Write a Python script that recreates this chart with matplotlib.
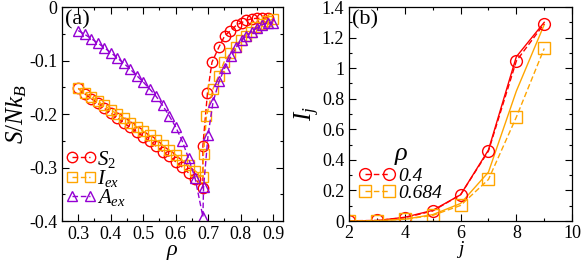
import matplotlib
matplotlib.use('Agg')
import matplotlib.pyplot as plt
from matplotlib.ticker import MultipleLocator

plt.rcParams['font.family'] = ['Liberation Serif', 'DejaVu Serif']
plt.rcParams['mathtext.fontset'] = 'custom'
plt.rcParams['mathtext.rm'] = 'Liberation Serif'
plt.rcParams['mathtext.it'] = 'Liberation Serif:italic'

# ---- panel (a) data ----
rho_s2 = [0.30, 0.32, 0.34, 0.36, 0.38, 0.40, 0.42, 0.44, 0.46, 0.48, 0.50, 0.52, 0.54,
          0.56, 0.58, 0.60, 0.62, 0.64, 0.66, 0.684, 0.684, 0.698, 0.712, 0.734, 0.751,
          0.769, 0.787, 0.803, 0.818, 0.834, 0.851, 0.867, 0.884]
s2 = [-0.152, -0.162, -0.171, -0.180, -0.189, -0.198, -0.207, -0.216, -0.225, -0.233,
      -0.242, -0.251, -0.260, -0.270, -0.279, -0.289, -0.299, -0.310, -0.321, -0.338,
      -0.259, -0.161, -0.103, -0.074, -0.054, -0.044, -0.034, -0.029, -0.025, -0.022,
      -0.021, -0.021, -0.020]

rho_iex = [0.30, 0.32, 0.34, 0.36, 0.38, 0.40, 0.42, 0.44, 0.46, 0.48, 0.50, 0.52, 0.54,
           0.56, 0.58, 0.60, 0.62, 0.64, 0.66, 0.684, 0.686, 0.695, 0.715, 0.733, 0.749,
           0.769, 0.785, 0.800, 0.816, 0.832, 0.849, 0.865, 0.882, 0.900]
iex = [-0.152, -0.160, -0.168, -0.176, -0.184, -0.192, -0.200, -0.208, -0.216, -0.224,
       -0.232, -0.240, -0.249, -0.258, -0.267, -0.276, -0.286, -0.296, -0.306, -0.318,
       -0.274, -0.204, -0.153, -0.128, -0.103, -0.086, -0.074, -0.062, -0.054, -0.046,
       -0.037, -0.031, -0.026, -0.023]

rho_aex = [0.30, 0.32, 0.34, 0.36, 0.38, 0.40, 0.42, 0.44, 0.46, 0.48, 0.50, 0.52, 0.54,
           0.56, 0.58, 0.60, 0.62, 0.64, 0.66, 0.684, 0.686, 0.700, 0.715, 0.734, 0.751,
           0.772, 0.787, 0.803, 0.818, 0.834, 0.851, 0.867, 0.884, 0.900]
aex = [-0.044, -0.051, -0.059, -0.067, -0.076, -0.085, -0.095, -0.105, -0.116, -0.128,
       -0.140, -0.153, -0.167, -0.184, -0.203, -0.224, -0.250, -0.283, -0.320, -0.392,
       -0.337, -0.239, -0.178, -0.139, -0.114, -0.091, -0.075, -0.062, -0.054, -0.046,
       -0.039, -0.033, -0.029, -0.030]

# ---- panel (b) data ----
j = [2, 3, 4, 5, 6, 7, 8, 9]
ij_04 = [0.002, 0.004, 0.022, 0.066, 0.172, 0.458, 1.047, 1.291]
ij_0684 = [0.001, 0.003, 0.012, 0.037, 0.102, 0.272, 0.680, 1.129]
ij_04_line = [0.0, 0.003, 0.025, 0.070, 0.172, 0.465, 1.075, 1.300]
ij_0684_line = [0.0, 0.002, 0.012, 0.042, 0.115, 0.320, 0.850, 1.285]

RED = '#ff0000'
ORANGE = '#ffa500'
PURPLE = '#9400d3'

fig = plt.figure(figsize=(5.81, 2.61), dpi=100)
ax1 = fig.add_axes([0.1067, 0.153, 0.380, 0.820])
ax2 = fig.add_axes([0.6007, 0.153, 0.384, 0.820])

mk = dict(markerfacecolor='none', markersize=7.5, markeredgewidth=1.0, linewidth=1.0,
          dashes=(4, 2))
ax1.plot(rho_s2, s2, 'o--', color=RED, label=r'$S_2$', **mk)
ax1.plot(rho_iex, iex, 's--', color=ORANGE, label=r'$I_{ex}$', **mk)
ax1.plot(rho_aex, aex, '^--', color=PURPLE, label=r'$A_{ex}$', **mk)
ax1.set_xlim(0.25, 0.93)
ax1.set_ylim(-0.4, 0.0)
ax1.xaxis.set_minor_locator(MultipleLocator(0.05))
ax1.yaxis.set_minor_locator(MultipleLocator(0.05))
ax1.set_xticks([0.3, 0.4, 0.5, 0.6, 0.7, 0.8, 0.9])
ax1.set_xticklabels(['0.3', '0.4', '0.5', '0.6', '0.7', '0.8', '0.9'])
ax1.set_yticks([-0.4, -0.3, -0.2, -0.1, 0.0])
ax1.set_yticklabels(['-0.4', '-0.3', '-0.2', '-0.1', '0'])
ax1.set_xlabel(r'$\rho$', fontsize=16, labelpad=0)
ax1.set_ylabel(r'$S/Nk_B$', fontsize=18, labelpad=0)
ax1.text(0.015, 0.985, '(a)', transform=ax1.transAxes, fontsize=16, va='top', ha='left')
leg1 = ax1.legend(loc='lower left', bbox_to_anchor=(0.0, 0.04), frameon=False,
                  numpoints=2, handlelength=1.45, handletextpad=0.05, labelspacing=-0.08,
                  fontsize=15, borderaxespad=0.0, borderpad=0.2)

ax2.plot(j, ij_04_line, '-', color=RED, linewidth=1.0)
ax2.plot(j, ij_0684_line, '-', color=ORANGE, linewidth=1.0)
mk2 = dict(markerfacecolor='none', markersize=8.5, markeredgewidth=1.0, linewidth=1.0,
           dashes=(4, 2))
ax2.plot(j, ij_04, 'o--', color=RED, label='0.4', **mk2)
ax2.plot(j, ij_0684, 's--', color=ORANGE, label='0.684', **mk2)
ax2.set_xlim(2, 10)
ax2.set_ylim(0, 1.4)
ax2.xaxis.set_minor_locator(MultipleLocator(1))
ax2.yaxis.set_minor_locator(MultipleLocator(0.1))
ax2.set_yticks([0, 0.2, 0.4, 0.6, 0.8, 1.0, 1.2, 1.4])
ax2.set_yticklabels(['0', '0.2', '0.4', '0.6', '0.8', '1', '1.2', '1.4'])
ax2.set_xticks([2, 4, 6, 8, 10])
ax2.set_xticklabels(['2', '4', '6', '8', '10'])
ax2.set_xlabel('j', fontsize=14, fontstyle='italic', labelpad=-0.5)
ax2.set_ylabel(r'$I_j$', fontsize=18, labelpad=0)
ax2.text(0.015, 0.985, '(b)', transform=ax2.transAxes, fontsize=16, va='top', ha='left')
leg2 = ax2.legend(loc='lower left', bbox_to_anchor=(0.03, 0.07), frameon=False,
                  numpoints=2, handlelength=1.8, handletextpad=0.2, labelspacing=0.0,
                  fontsize=14, title=r'$\rho$', title_fontsize=19,
                  borderaxespad=0.0, borderpad=0.2)
for t in leg2.get_texts():
    t.set_fontstyle('italic')

for ax in (ax1, ax2):
    ax.tick_params(which='both', direction='in', top=True, right=True, labelsize=13,
                   width=0.8, pad=3.5)
    ax.tick_params(which='major', length=5)
    ax.tick_params(which='minor', length=2.5)
    for s in ax.spines.values():
        s.set_linewidth(0.9)
ax2.tick_params(axis='x', which='both', pad=2.5)

fig.savefig('out.png', dpi=100)
